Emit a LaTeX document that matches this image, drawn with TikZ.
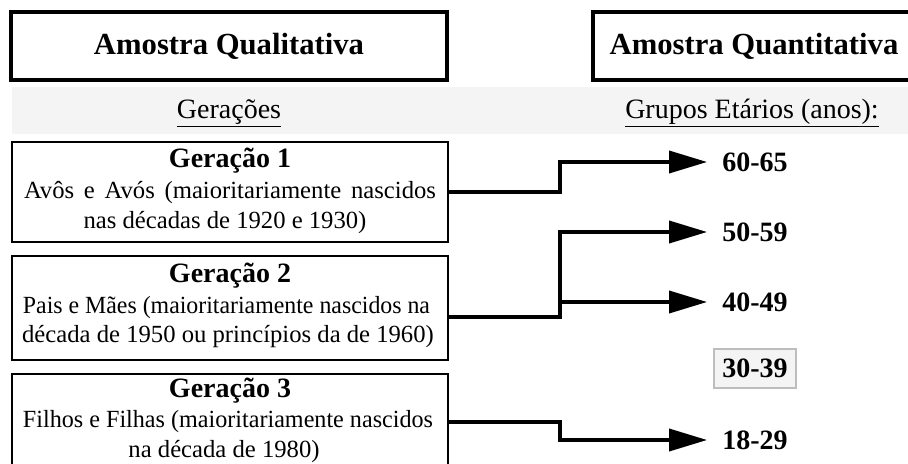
\documentclass[tikz,border=0pt]{standalone}
\usepackage{fontspec}
\usepackage{graphicx}
\setmainfont{Liberation Serif}
\usetikzlibrary{arrows.meta,calc}
\definecolor{band}{HTML}{F4F4F4}
\definecolor{lightframe}{HTML}{BDBDBD}
\begin{document}
\begin{tikzpicture}[x=0.75pt,y=-0.75pt,
  titlebox/.style={draw=black,line width=3pt,minimum height=51pt,inner sep=0pt,
    font=\bfseries\fontsize{23}{27}\selectfont},
  hdr/.style={anchor=base,inner sep=0pt,font=\fontsize{21}{25}\selectfont},
  genbox/.style={draw=black,line width=1.5pt,minimum width=327pt,inner sep=0pt},
  gtitle/.style={anchor=base,inner sep=0pt,font=\bfseries\fontsize{21}{25}\selectfont},
  gtext/.style={anchor=base,inner sep=0pt,font=\fontsize{18.5}{22}\selectfont},
  age/.style={inner xsep=11.25pt,inner ysep=0pt,font=\bfseries\fontsize{21}{25}\selectfont},
  agebox/.style={draw=lightframe,fill=band,line width=1.1pt,minimum width=61.5pt,
    minimum height=29.25pt,inner sep=0pt,font=\bfseries\fontsize{21}{25}\selectfont},
  conn/.style={line width=2.8pt,line join=miter,-{Triangle[length=28.5pt,width=16.5pt]}}]
\useasboundingbox (0,0) rectangle (908,464);
\clip (0,0) rectangle (908,464);

% titles
\node[titlebox,minimum width=327pt] (qual) at (229,46) {Amostra Qualitativa};
\node[titlebox,minimum width=241.5pt] (quant) at (754,46) {Amostra Quantitativa};

% grey band
\fill[band] (12,87) rectangle (908,134);
\node[hdr] (gh) at (229,118) {\underline{Gerações}};
\node[hdr] (ah) at (752,118) {\underline{Grupos Etários (anos):}};

% generation boxes
\node[genbox,minimum height=75pt] (g1) at (230,192) {};
\node[gtitle] (g1t) at (230,167) {Geração 1};
\node[gtext] (g1a) at (230,198) {\makebox[309pt]{Avôs\hfill e\hfill Avós\hfill (maioritariamente\hfill nascidos}};
\node[gtext] (g1b) at (225,228) {nas décadas de 1920 e 1930)};

\node[genbox,minimum height=78pt] (g2) at (230,308) {};
\node[gtitle] (g2t) at (230,282) {Geração 2};
\node[gtext] (g2a) at (226.5,313) {\resizebox{305.25pt}{\height}{Pais e Mães (maioritariamente nascidos na}};
\node[gtext] (g2b) at (228,342) {década de 1950 ou princípios da de 1960)};

\node[genbox,minimum height=72pt] (g3) at (230,422) {};
\node[gtitle] (g3t) at (230,397) {Geração 3};
\node[gtext] (g3a) at (228,427) {\resizebox{307.5pt}{\height}{Filhos e Filhas (maioritariamente nascidos}};
\node[gtext] (g3b) at (224,457) {na década de 1980)};

% age groups
\node[age] (a1) at (755,162) {60-65};
\node[age] (a2) at (755,232) {50-59};
\node[age] (a3) at (755,302) {40-49};
\node[agebox] (a4) at (755,368.5) {30-39};
\node[age] (a5) at (755,440) {18-29};

% connectors
\coordinate (bus) at (560,0);
\draw[conn] (g1.east) -- (g1.east -| bus) |- (a1.west);
\coordinate (s2) at ($(g2.east)+(0,9)$);
\draw[conn] (s2) -- (s2 -| bus) |- (a2.west);
\draw[conn] (a3.west -| bus) -- (a3.west);
\draw[conn] (g3.east) -- (g3.east -| bus) |- (a5.west);
\end{tikzpicture}
\end{document}
